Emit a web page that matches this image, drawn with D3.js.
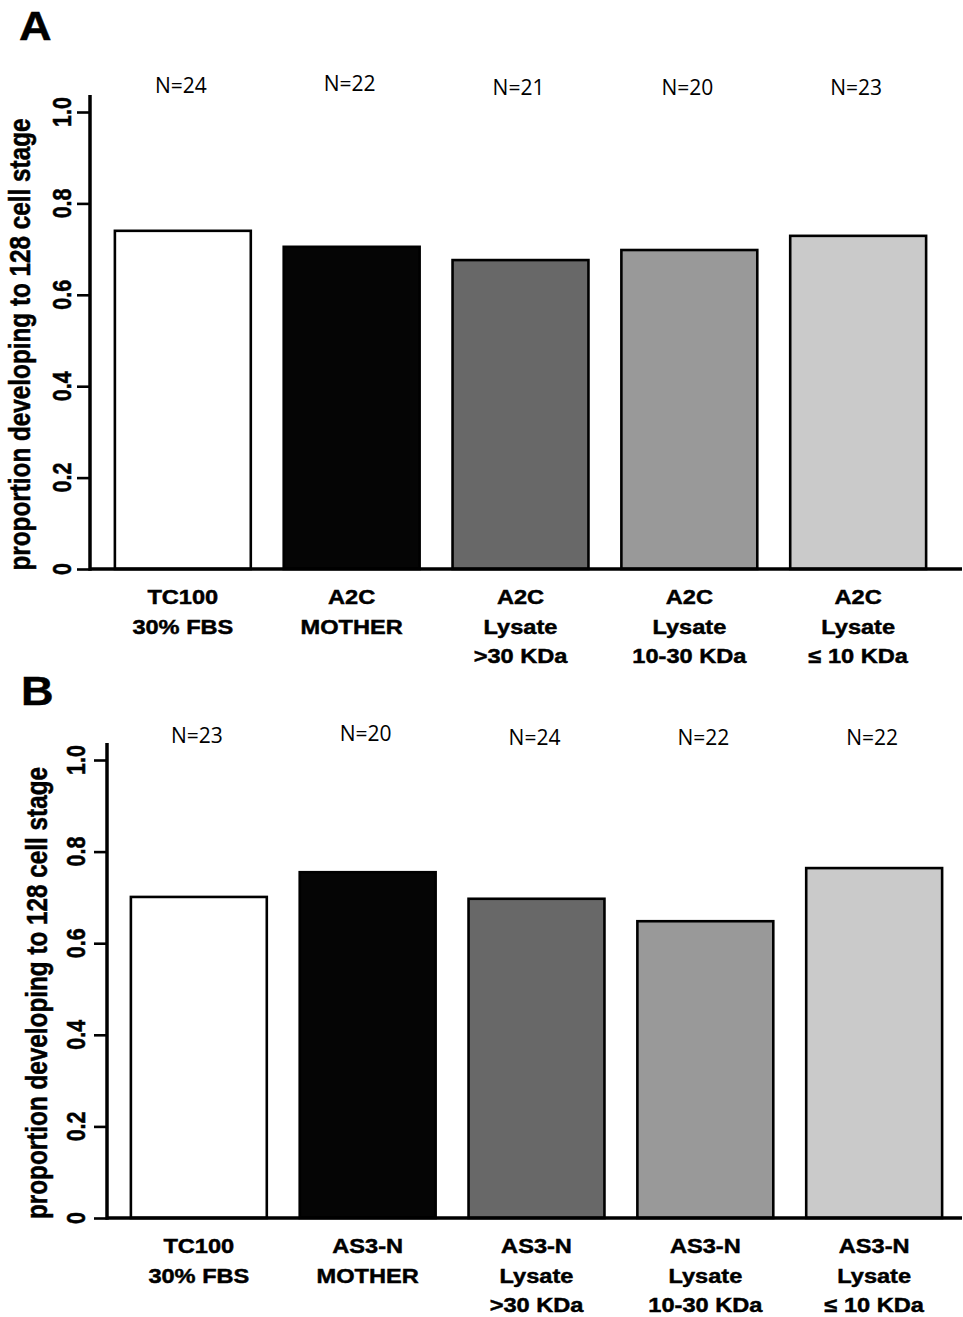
<!DOCTYPE html>
<html><head><meta charset="utf-8">
<script src="https://cdn.jsdelivr.net/npm/d3@7"></script>
<style>body{margin:0;background:#fff}svg{display:block}</style>
</head><body>
<script>
const categoriesA = [["TC100","30% FBS"],["A2C","MOTHER"],["A2C","Lysate",">30 KDa"],["A2C","Lysate","10-30 KDa"],["A2C","Lysate","\u2264 10 KDa"]];
const valuesA = [0.740, 0.705, 0.676, 0.698, 0.729];
const nLabelsA = ["N=24","N=22","N=21","N=20","N=23"];
const categoriesB = [["TC100","30% FBS"],["AS3-N","MOTHER"],["AS3-N","Lysate",">30 KDa"],["AS3-N","Lysate","10-30 KDa"],["AS3-N","Lysate","\u2264 10 KDa"]];
const valuesB = [0.701, 0.755, 0.697, 0.648, 0.764];
const nLabelsB = ["N=23","N=20","N=24","N=22","N=22"];
const barColors = ["#ffffff","#050505","#686868","#999999","#cacaca"];
const yTicks = [0,0.2,0.4,0.6,0.8,1.0];
const yTickLabels = ["0","0.2","0.4","0.6","0.8","1.0"];
const yTitle = "proportion developing to 128 cell stage";

const W=963,H=1317;
const svg=d3.select("body").append("svg").attr("width",W).attr("height",H);
const FONT="'Liberation Sans', Arial, Helvetica, sans-serif";
const NFONT="'Open Sans', 'Noto Sans', sans-serif";

function bold(sel){
  return sel.style("font-family",FONT).style("font-weight","bold")
    .attr("stroke","#000").attr("stroke-width",0.45).attr("fill","#000");
}

function panel(cfg){
  const {letter,cats,vals,ns,axisX,x0,x1,y0,y1,axisTop,letterPos,nY,tickLabelX,titleX,catY,lineOffsets} = cfg;
  const g=svg.append("g");
  const x=d3.scaleBand().domain(d3.range(cats.length)).range([x0,x1]).paddingInner(0.195).paddingOuter(0.1);
  const y=d3.scaleLinear().domain([0,1]).range([y0,y1]);
  g.selectAll("rect.bar").data(vals).join("rect")
    .attr("x",(d,i)=>x(i)).attr("width",x.bandwidth())
    .attr("y",d=>y(d)).attr("height",d=>y(0)-y(d))
    .attr("fill",(d,i)=>barColors[i]).attr("stroke","#000").attr("stroke-width",2.6);
  const ax=d3.axisLeft(y).tickValues(yTicks).tickFormat("").tickSize(13).tickSizeOuter(0);
  const ag=g.append("g").attr("transform",`translate(${axisX},0)`).call(ax);
  ag.select(".domain").remove();
  ag.selectAll(".tick line").attr("stroke","#000").attr("stroke-width",2.6);
  g.append("line").attr("x1",axisX).attr("x2",axisX).attr("y1",axisTop).attr("y2",y(0)+1.75).attr("stroke","#000").attr("stroke-width",3.5);
  g.append("line").attr("x1",axisX).attr("x2",962).attr("y1",y(0)).attr("y2",y(0)).attr("stroke","#000").attr("stroke-width",3.5);
  yTicks.forEach((t,i)=>{
    bold(g.append("text").attr("transform",`translate(${tickLabelX},${y(t)}) scale(1.22,1) rotate(-90)`)
      .attr("text-anchor","middle"))
      .style("font-size","21.5px")
      .text(yTickLabels[i]);
  });
  bold(g.append("text").attr("transform",`translate(${titleX},${(y(0)+y(1))/2+4}) scale(1.18,1) rotate(-90)`)
    .attr("text-anchor","middle"))
    .style("font-size","24.3px")
    .text(yTitle);
  ns.forEach((n,i)=>{
    g.append("text").attr("x",x(i)+x.bandwidth()/2-2).attr("y",nY[i])
      .attr("text-anchor","middle").attr("dy","0.36em")
      .style("font-family",NFONT).style("font-size","21px").text(n);
  });
  cats.forEach((c,i)=>{
    c.forEach((line,j)=>{
      bold(g.append("text").attr("transform",`translate(${x(i)+x.bandwidth()/2},${catY+lineOffsets[j]}) scale(1.18,1)`)
        .attr("text-anchor","middle").attr("dy","0.36em"))
        .style("font-size","20px").text(line);
    });
  });
  bold(g.append("text").attr("transform",`translate(${letterPos[0]},${letterPos[1]}) scale(1.1,1)`))
    .style("font-size","41px").text(letter);
}

panel({letter:"A",cats:categoriesA,vals:valuesA,ns:nLabelsA,axisX:90,x0:98,x1:943,y0:569,y1:112,axisTop:95,
  letterPos:[19,40],nY:[85,83,87,87,87],tickLabelX:71,titleX:30,catY:597,lineOffsets:[0,29.5,59]});
panel({letter:"B",cats:categoriesB,vals:valuesB,ns:nLabelsB,axisX:107,x0:114,x1:959,y0:1218,y1:760,axisTop:743,
  letterPos:[21,705],nY:[735,733,737,737,737],tickLabelX:85,titleX:47,catY:1246,lineOffsets:[0,30,59]});
</script>
</body></html>
